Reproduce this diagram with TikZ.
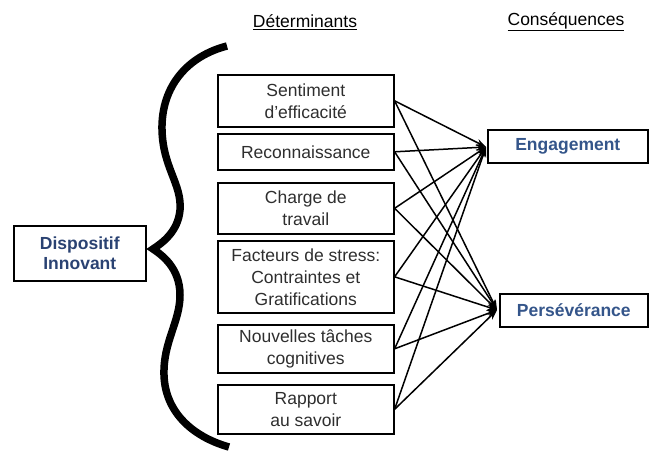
\documentclass[tikz,border=0pt]{standalone}
\usepackage{fontspec}
\setmainfont{Liberation Sans}
\usetikzlibrary{arrows.meta}
\definecolor{boxtext}{HTML}{2E2E2E}
\definecolor{bluetext}{HTML}{34558A}
\definecolor{darkblue}{HTML}{2A4272}
\begin{document}
\begin{tikzpicture}[x=1pt,y=-1pt,
  txt/.style={font=\fontsize{17.5}{22}\selectfont},
  det/.style={txt, draw, line width=1.6pt, minimum width=176pt, align=center,
    inner sep=0pt, text=boxtext, anchor=north west},
  side/.style={draw, line width=1.6pt, align=center, inner sep=0pt,
    anchor=north west, text=bluetext, font=\fontsize{17.5}{20}\selectfont\bfseries},
  head/.style={txt, text=black},
  conn/.style={line width=1.5pt, -{Stealth[length=10pt,width=7pt]}}]
\useasboundingbox (0,0) rectangle (650,451);

% column headers
\node[head] (hdet) at (305,22) {\underline{Déterminants}};
\node[head] (hcon) at (566,22) {\underline{Conséquences}};

% left: the device
\node[side, text=darkblue, minimum width=132pt, minimum height=55pt] (disp) at (13,225) {Dispositif\\Innovant};

% curly brace
\draw[line width=7.5pt, line join=miter, miter limit=20]
  (227,46) .. controls (188,56) and (161,86) .. (162,130)
  .. controls (163,168) and (182,184) .. (180,210)
  .. controls (178,232) and (162,243) .. (153,249)
  .. controls (162,255) and (180,268) .. (180,295)
  .. controls (180,322) and (163,342) .. (164,375)
  .. controls (165,410) and (190,436) .. (229,447);

% determinants
\node[det, minimum height=52pt] (d1) at (217,74)  {Sentiment\\d'efficacité};
\node[det, minimum height=36pt] (d2) at (217,133) {Reconnaissance};
\node[det, minimum height=51pt] (d3) at (217,182) {Charge de\\travail};
\node[det, minimum height=72pt] (d4) at (217,240) {Facteurs de stress:\\Contraintes et\\Gratifications};
\node[det, minimum height=48pt] (d5) at (217,324) {Nouvelles tâches\\cognitives};
\node[det, minimum height=49pt] (d6) at (217,384) {Rapport\\au savoir};

% consequences
\node[side, minimum width=160pt, minimum height=33pt] (eng) at (487,129) {Engagement};
\node[side, minimum width=148pt, minimum height=33pt] (per) at (499,293) {Persévérance};

\coordinate (engtip) at (486,147);
\coordinate (pertip) at (497,310);

% every determinant points to both consequences
\foreach \d in {d1,d2,d3,d4,d5,d6}{
  \draw[conn] (\d.east) -- (engtip);
  \draw[conn] (\d.east) -- (pertip);
}
\end{tikzpicture}
\end{document}
